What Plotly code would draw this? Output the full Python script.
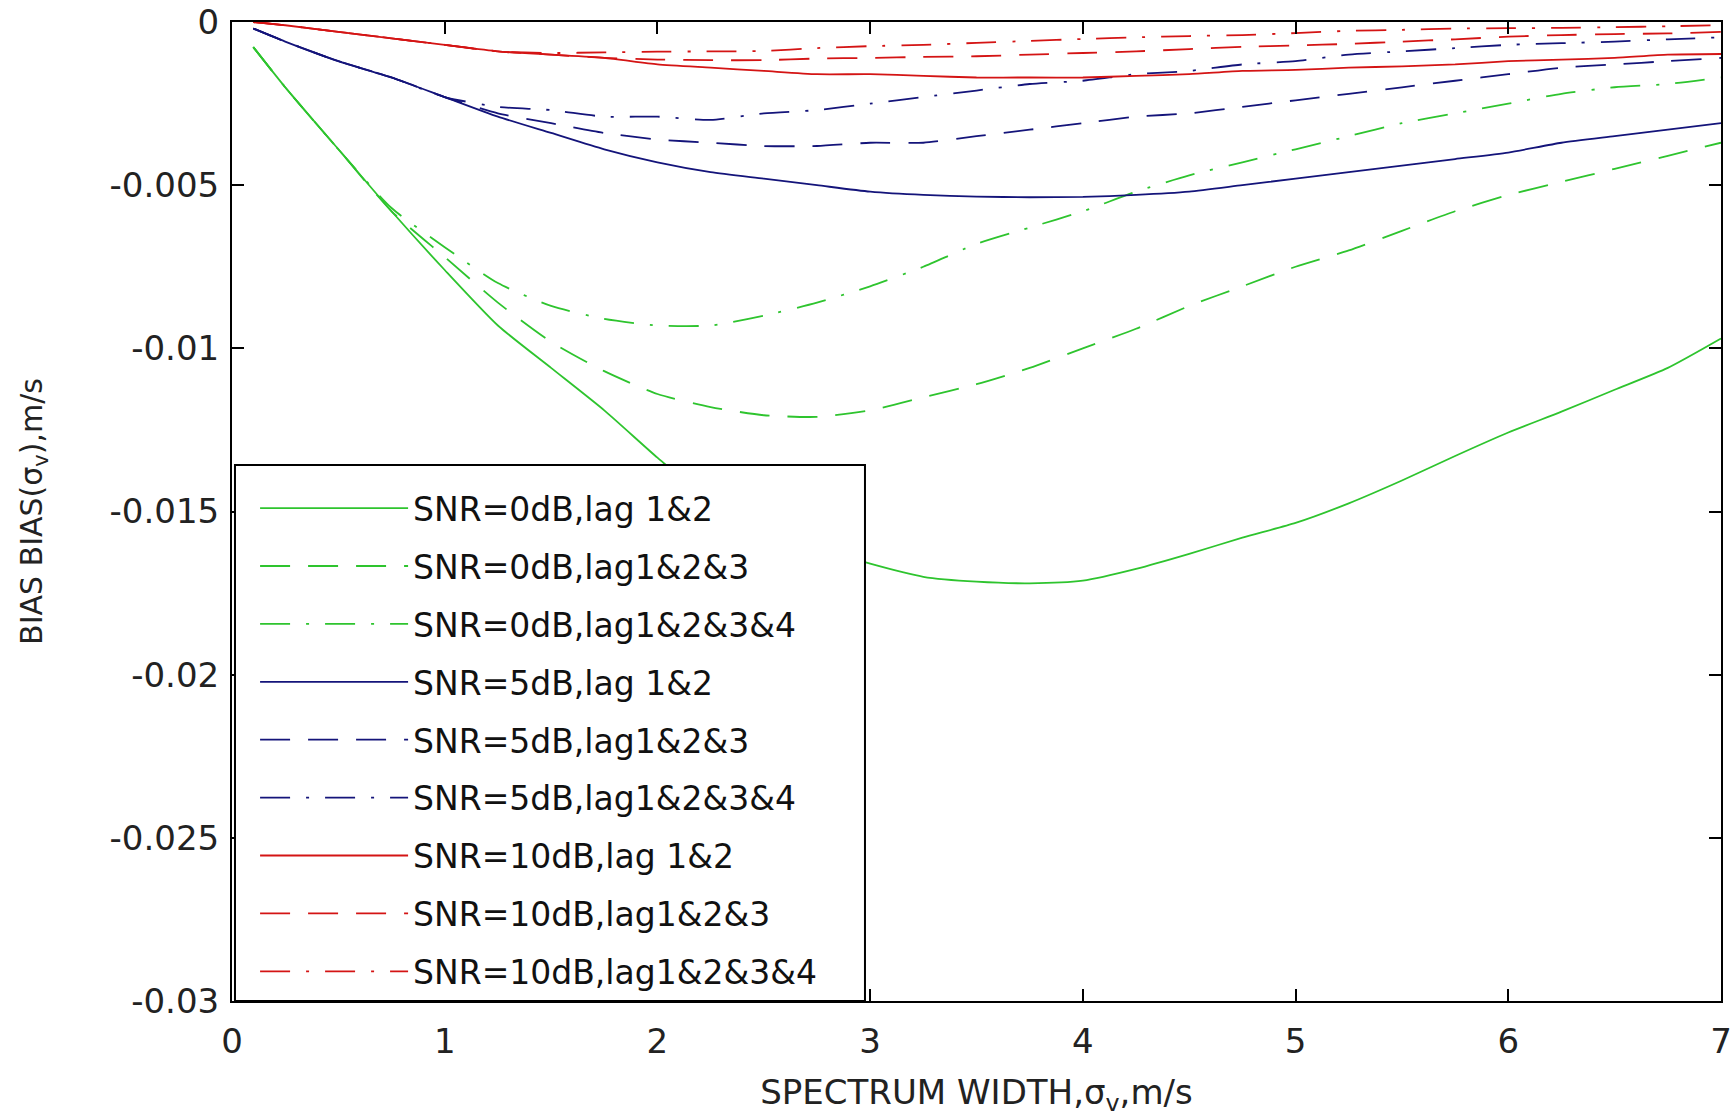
import plotly.graph_objects as go

x = [0.1, 0.25, 0.5, 0.75, 1.0, 1.25, 1.5, 1.75, 2.0, 2.25, 2.5, 2.75, 3.0, 3.25, 3.5,
     3.75, 4.0, 4.25, 4.5, 4.75, 5.0, 5.25, 5.5, 5.75, 6.0, 6.25, 6.5, 6.75, 7.0]

snr0_lag12 = [-0.00077, -0.0020, -0.0039, -0.0058, -0.0076, -0.0093, -0.0106, -0.0119, -0.01335,
              -0.0147, -0.0155, -0.0161, -0.0166, -0.0170, -0.01715, -0.0172, -0.01712, -0.01676,
              -0.0163, -0.0158, -0.01535, -0.01475, -0.01405, -0.0133, -0.01258, -0.01194,
              -0.01127, -0.0106, -0.0097]
snr0_lag123 = [-0.00077, -0.0020, -0.0039, -0.0058, -0.0072, -0.0086, -0.0098, -0.0107, -0.0114,
               -0.0118, -0.01205, -0.0121, -0.0119, -0.0115, -0.0111, -0.0106, -0.0100, -0.0094,
               -0.0087, -0.0081, -0.0075, -0.0070, -0.0064, -0.0058, -0.0053, -0.0049, -0.0045,
               -0.0041, -0.0037]
snr0_lag1234 = [-0.00077, -0.0020, -0.0039, -0.0057, -0.0069, -0.0080, -0.0087, -0.0091, -0.0093,
                -0.0093, -0.0090, -0.0086, -0.0081, -0.0075, -0.0068, -0.0063, -0.0058, -0.0052,
                -0.0047, -0.0043, -0.0039, -0.0035, -0.0031, -0.0028, -0.0025, -0.0022, -0.0020,
                -0.0019, -0.0017]
snr5_lag12 = [-0.0002, -0.0006, -0.0012, -0.0017, -0.0023, -0.0029, -0.0034, -0.0039, -0.0043,
              -0.0046, -0.0048, -0.0050, -0.0052, -0.0053, -0.00535, -0.00537, -0.00536, -0.0053,
              -0.0052, -0.0050, -0.0048, -0.0046, -0.0044, -0.0042, -0.0040, -0.0037, -0.0035,
              -0.0033, -0.0031]
snr5_lag123 = [-0.0002, -0.0006, -0.0012, -0.0017, -0.0023, -0.0028, -0.0031, -0.0034, -0.0036,
               -0.0037, -0.0038, -0.0038, -0.0037, -0.0037, -0.0035, -0.0033, -0.0031, -0.0029,
               -0.0028, -0.0026, -0.0024, -0.0022, -0.0020, -0.0018, -0.0016, -0.0014, -0.0013,
               -0.0012, -0.0011]
snr5_lag1234 = [-0.0002, -0.0006, -0.0012, -0.0017, -0.0023, -0.0026, -0.0027, -0.0029, -0.0029,
                -0.0030, -0.0028, -0.0027, -0.0025, -0.0023, -0.0021, -0.0019, -0.0018, -0.0016,
                -0.0015, -0.0013, -0.0012, -0.0010, -0.0009, -0.0008, -0.0007, -0.00065, -0.0006,
                -0.00053, -0.00047]
snr10_lag12 = [0.0, -0.0001, -0.0003, -0.0005, -0.0007, -0.0009, -0.0010, -0.0011, -0.0013,
               -0.0014, -0.0015, -0.0016, -0.0016, -0.00165, -0.0017, -0.0017, -0.0017, -0.00165,
               -0.0016, -0.0015, -0.00147, -0.0014, -0.00136, -0.0013, -0.0012, -0.00115, -0.0011,
               -0.0010, -0.00098]
snr10_lag123 = [0.0, -0.0001, -0.0003, -0.0005, -0.0007, -0.0009, -0.0010, -0.0011, -0.00115,
                -0.00117, -0.00117, -0.00112, -0.0011, -0.00107, -0.00105, -0.0010, -0.00095,
                -0.0009, -0.00083, -0.00076, -0.00072, -0.00067, -0.0006, -0.00053, -0.00045,
                -0.0004, -0.00037, -0.00035, -0.0003]
snr10_lag1234 = [0.0, -0.0001, -0.0003, -0.0005, -0.0007, -0.0009, -0.00095, -0.00093, -0.00091,
                 -0.0009, -0.00089, -0.0008, -0.00074, -0.0007, -0.00064, -0.00058, -0.00052,
                 -0.00047, -0.00043, -0.0004, -0.00034, -0.00027, -0.00024, -0.0002, -0.00019,
                 -0.00018, -0.00016, -0.00013, -0.0001]

names = ["SNR=0dB,lag 1&2", "SNR=0dB,lag1&2&3", "SNR=0dB,lag1&2&3&4",
         "SNR=5dB,lag 1&2", "SNR=5dB,lag1&2&3", "SNR=5dB,lag1&2&3&4",
         "SNR=10dB,lag 1&2", "SNR=10dB,lag1&2&3", "SNR=10dB,lag1&2&3&4"]
series = [snr0_lag12, snr0_lag123, snr0_lag1234,
          snr5_lag12, snr5_lag123, snr5_lag1234,
          snr10_lag12, snr10_lag123, snr10_lag1234]

x_ticks = [0, 1, 2, 3, 4, 5, 6, 7]
y_ticks = [0, -0.005, -0.01, -0.015, -0.02, -0.025, -0.03]
y_ticklabels = ["0", "-0.005", "-0.01", "-0.015", "-0.02", "-0.025", "-0.03"]

colors = ["#2ec42e"] * 3 + ["#14147a"] * 3 + ["#d41414"] * 3
dashes = ["solid", "30px,18px", "30px,16px,3px,16px"] * 3

fig = go.Figure()
for i, (nm, ys) in enumerate(zip(names, series)):
    fig.add_trace(go.Scatter(
        x=x, y=ys, mode="lines", name=nm, legendgroup=f"g{i}",
        line=dict(color=colors[i], width=1.8, dash=dashes[i], shape="spline", smoothing=0.6),
    ))

font_fam = "DejaVu Sans, Verdana, sans-serif"

# legend frame (white box with black border) drawn over the curves
fig.add_shape(type="rect", xref="paper", yref="paper",
              x0=0.002, x1=0.4251, y0=0.0, y1=0.5475,
              fillcolor="white", line=dict(color="black", width=2), layer="above")

fig.update_layout(
    width=1733, height=1117,
    margin=dict(l=232, r=12, t=22, b=116, autoexpand=False),
    paper_bgcolor="white", plot_bgcolor="white",
    font=dict(family=font_fam, size=30, color="#222222"),
    showlegend=True,
    legend=dict(
        x=0.0155, y=0.532, xanchor="left", yanchor="top",
        bgcolor="rgba(0,0,0,0)", borderwidth=0,
        font=dict(family=font_fam, size=33, color="#111111"),
        itemwidth=148, tracegroupgap=12, itemclick=False,
    ),
    xaxis=dict(
        range=[0, 7], tickvals=x_ticks, ticktext=[str(v) for v in x_ticks],
        ticks="inside", ticklen=12, tickwidth=2, tickcolor="black",
        tickfont=dict(family=font_fam, size=34, color="#222222"),
        showline=True, linecolor="black", linewidth=2, mirror="ticks",
        showgrid=False, zeroline=False, ticklabelstandoff=9, automargin=False,
        title=dict(text="SPECTRUM WIDTH,σ<sub>v</sub>,m/s", standoff=27,
                   font=dict(family=font_fam, size=34, color="#222222")),
    ),
    yaxis=dict(
        range=[-0.03, 0], tickvals=y_ticks, ticktext=y_ticklabels,
        ticks="inside", ticklen=12, tickwidth=2, tickcolor="black",
        tickfont=dict(family=font_fam, size=34, color="#222222"),
        showline=True, linecolor="black", linewidth=2, mirror="ticks",
        showgrid=False, zeroline=False, ticklabelstandoff=4, automargin=False,
        title=dict(text="BIAS BIAS(σ<sub>v</sub>),m/s", standoff=58,
                   font=dict(family=font_fam, size=30, color="#222222")),
    ),
)

fig.write_html("out.html")
